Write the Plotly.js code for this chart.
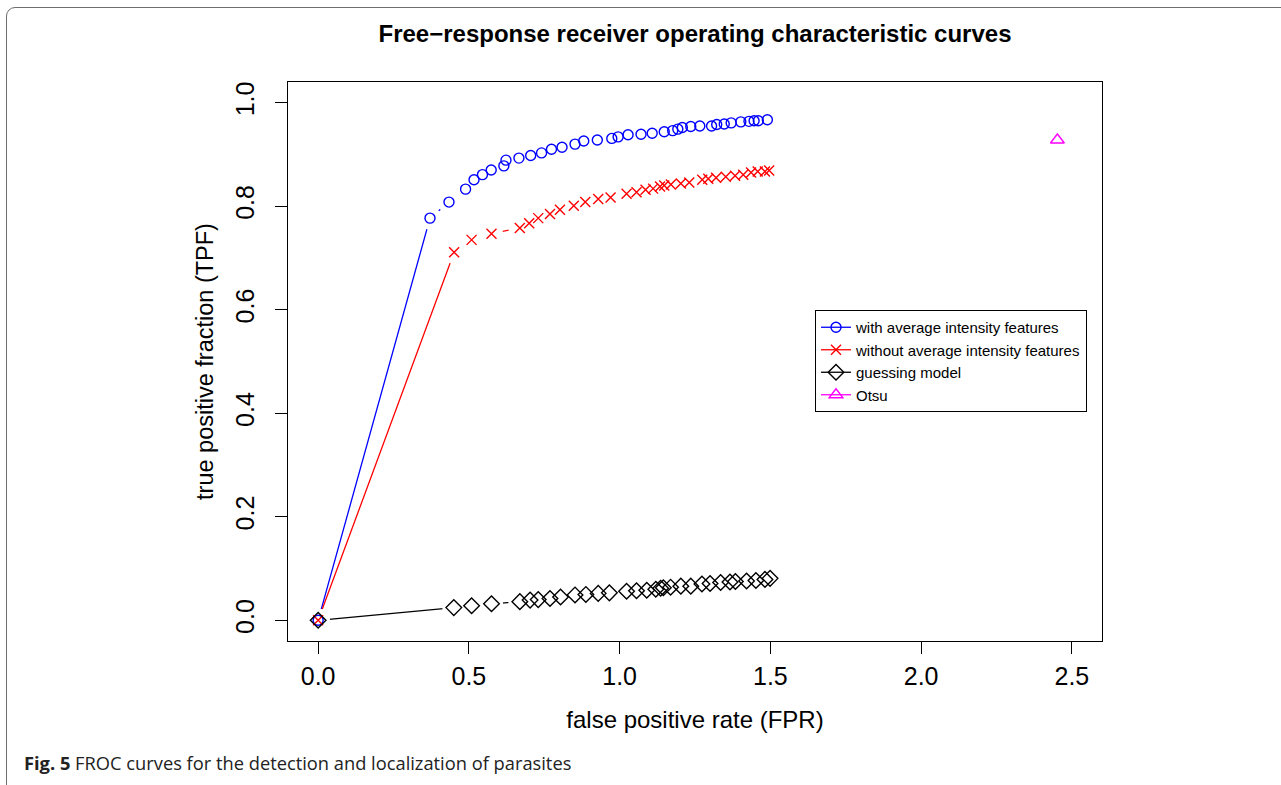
<!DOCTYPE html>
<html>
<head>
<meta charset="utf-8">
<script src="https://cdn.plot.ly/plotly-3.0.1.min.js"></script>
<style>
  html, body { margin: 0; padding: 0; background: #fff; }
  #wrap { position: relative; width: 1281px; height: 785px; overflow: hidden; }
  #chart { position: absolute; left: 0; top: 0; width: 1281px; height: 785px; }
  #frame { position: absolute; left: 6px; top: 7px; width: 1290px; height: 800px;
           border: 1.5px solid #6e6e6e; border-radius: 9px; pointer-events: none; box-sizing: border-box; }
</style>
</head>
<body>
<div id="wrap">
  <div id="chart"></div>
  <div id="frame"></div>
</div>
<script>
// ---- data ----
const withFPR = [0, 0.371, 0.434, 0.489, 0.517, 0.545, 0.574, 0.616, 0.623, 0.666, 0.705, 0.741, 0.774, 0.809, 0.852, 0.881, 0.926, 0.974, 0.995, 1.028, 1.071, 1.108, 1.148, 1.176, 1.193, 1.208, 1.236, 1.266, 1.305, 1.322, 1.347, 1.370, 1.402, 1.429, 1.446, 1.460, 1.490];
const withTPF = [0, 0.777, 0.808, 0.833, 0.851, 0.861, 0.870, 0.878, 0.889, 0.893, 0.898, 0.903, 0.910, 0.914, 0.920, 0.926, 0.928, 0.931, 0.934, 0.938, 0.939, 0.941, 0.944, 0.946, 0.949, 0.952, 0.954, 0.955, 0.955, 0.958, 0.959, 0.961, 0.963, 0.964, 0.965, 0.965, 0.967];

const withoutFPR = [0, 0.451, 0.509, 0.575, 0.669, 0.700, 0.730, 0.769, 0.802, 0.848, 0.886, 0.929, 0.970, 1.023, 1.056, 1.086, 1.111, 1.134, 1.148, 1.170, 1.203, 1.231, 1.274, 1.294, 1.320, 1.352, 1.383, 1.410, 1.436, 1.458, 1.482, 1.496];
const withoutTPF = [0, 0.711, 0.735, 0.747, 0.758, 0.767, 0.777, 0.785, 0.793, 0.801, 0.808, 0.814, 0.817, 0.824, 0.827, 0.832, 0.834, 0.838, 0.840, 0.842, 0.844, 0.846, 0.851, 0.853, 0.855, 0.857, 0.859, 0.861, 0.865, 0.867, 0.867, 0.869];

const guessFPR = [0, 0.450, 0.509, 0.575, 0.669, 0.703, 0.730, 0.769, 0.804, 0.852, 0.888, 0.929, 0.966, 1.023, 1.056, 1.090, 1.120, 1.136, 1.145, 1.169, 1.203, 1.236, 1.273, 1.300, 1.335, 1.366, 1.384, 1.421, 1.452, 1.482, 1.499];
const guessTPF = [0, 0.0245, 0.028, 0.032, 0.036, 0.039, 0.040, 0.042, 0.045, 0.049, 0.050, 0.052, 0.053, 0.056, 0.057, 0.058, 0.060, 0.062, 0.063, 0.064, 0.066, 0.066, 0.070, 0.071, 0.073, 0.074, 0.075, 0.076, 0.077, 0.079, 0.081];

const otsuFPR = [2.452];
const otsuTPF = [0.928];

const seriesNames = ["with average intensity features", "without average intensity features", "guessing model", "Otsu"];
const xTicks = [0, 0.5, 1.0, 1.5, 2.0, 2.5];
const xTickText = ["0.0", "0.5", "1.0", "1.5", "2.0", "2.5"];
const yTicks = [0, 0.2, 0.4, 0.6, 0.8, 1.0];
const yTickText = ["0.0", "0.2", "0.4", "0.6", "0.8", "1.0"];

// ---- helpers ----
function gapped(arr) { // insert nulls so the symbol trace draws no segments, legend still shows a line
  const out = [];
  arr.forEach((v, i) => { out.push(v); if (i < arr.length - 1) out.push(null); });
  return out;
}

const series = [
  {x: withFPR, y: withTPF, color: '#0000FF', symbol: 'circle-open', size: 10, name: seriesNames[0]},
  {x: withoutFPR, y: withoutTPF, color: '#FF0000', symbol: 'x-thin-open', size: 10, name: seriesNames[1]},
  {x: guessFPR, y: guessTPF, color: '#000000', symbol: 'diamond-open', size: 12, name: seriesNames[2]}
];

const traces = [];
// connecting lines
series.forEach(s => traces.push({
  x: s.x, y: s.y, type: 'scatter', mode: 'lines', showlegend: false, hoverinfo: 'skip',
  line: {color: s.color, width: 1.3}
}));
// white gaps around points (like R type = "b")
series.forEach(s => traces.push({
  x: s.x, y: s.y, type: 'scatter', mode: 'markers', showlegend: false, hoverinfo: 'skip',
  marker: {symbol: 'circle', size: 23, color: '#ffffff', line: {width: 0}}
}));
// point symbols (with legend entries)
series.forEach(s => traces.push({
  x: gapped(s.x), y: gapped(s.y), type: 'scatter', mode: 'lines+markers', connectgaps: false, name: s.name,
  line: {color: s.color, width: 1.3},
  marker: {symbol: s.symbol, size: s.size, color: s.color, line: {color: s.color, width: 1.4}}
}));
traces.push({
  x: otsuFPR, y: otsuTPF, type: 'scatter', mode: 'lines+markers', name: seriesNames[3],
  line: {color: '#FF00FF', width: 1.3},
  marker: {symbol: 'triangle-up-open', size: 12, color: '#FF00FF', line: {color: '#FF00FF', width: 1.4}}
});

const baseFont = 'Liberation Sans, Arial, Helvetica, sans-serif';

const layout = {
  width: 1281, height: 785,
  paper_bgcolor: '#ffffff', plot_bgcolor: '#ffffff',
  margin: {l: 288, r: 179, t: 82, b: 144},
  font: {family: baseFont, color: '#000'},
  title: {
    text: '<b>Free\u2212response receiver operating characteristic curves</b>',
    font: {family: baseFont, size: 24, color: '#000'},
    x: 0.5, xref: 'paper', xanchor: 'center',
    y: 1 - 34 / 785, yref: 'container', yanchor: 'middle'
  },
  xaxis: {
    range: [-0.1, 2.6], autorange: false,
    tickmode: 'array', tickvals: xTicks, ticktext: xTickText,
    ticks: 'outside', ticklen: 12, tickwidth: 1, tickcolor: '#000',
    ticklabelstandoff: 1,
    tickfont: {family: baseFont, size: 25, color: '#000'},
    showline: true, linecolor: '#000', linewidth: 1, mirror: true,
    showgrid: false, zeroline: false,
    title: {text: 'false positive rate (FPR)', font: {family: baseFont, size: 24, color: '#000'}, standoff: 22}
  },
  yaxis: {
    range: [-0.04, 1.04], autorange: false,
    tickmode: 'array', tickvals: yTicks, ticktext: yTickText,
    ticks: 'outside', ticklen: 12, tickwidth: 1, tickcolor: '#000',
    tickangle: -90, ticklabelstandoff: 11,
    tickfont: {family: baseFont, size: 25, color: '#000'},
    showline: true, linecolor: '#000', linewidth: 1, mirror: true,
    showgrid: false, zeroline: false,
    title: {text: 'true positive fraction (TPF)', font: {family: baseFont, size: 23.5, color: '#000'}, standoff: 10}
  },
  legend: {
    x: (815 - 288) / 814, xanchor: 'left',
    y: (641 - 310) / 559, yanchor: 'top',
    bgcolor: '#ffffff', bordercolor: '#000', borderwidth: 1,
    font: {family: baseFont, size: 15, color: '#000'},
    itemwidth: 30, tracegroupgap: 0
  },
  showlegend: true,
  annotations: [{
    text: '<b>Fig. 5</b> FROC curves for the detection and localization of parasites',
    xref: 'paper', yref: 'paper', x: (22 - 288) / 814, y: (641 - 762) / 559,
    xanchor: 'left', yanchor: 'middle', showarrow: false,
    font: {family: 'Open Sans, Noto Sans, sans-serif', size: 18.3, color: '#222'}
  }]
};

Plotly.newPlot('chart', traces, layout, {displayModeBar: false, staticPlot: true});
</script>
</body>
</html>
